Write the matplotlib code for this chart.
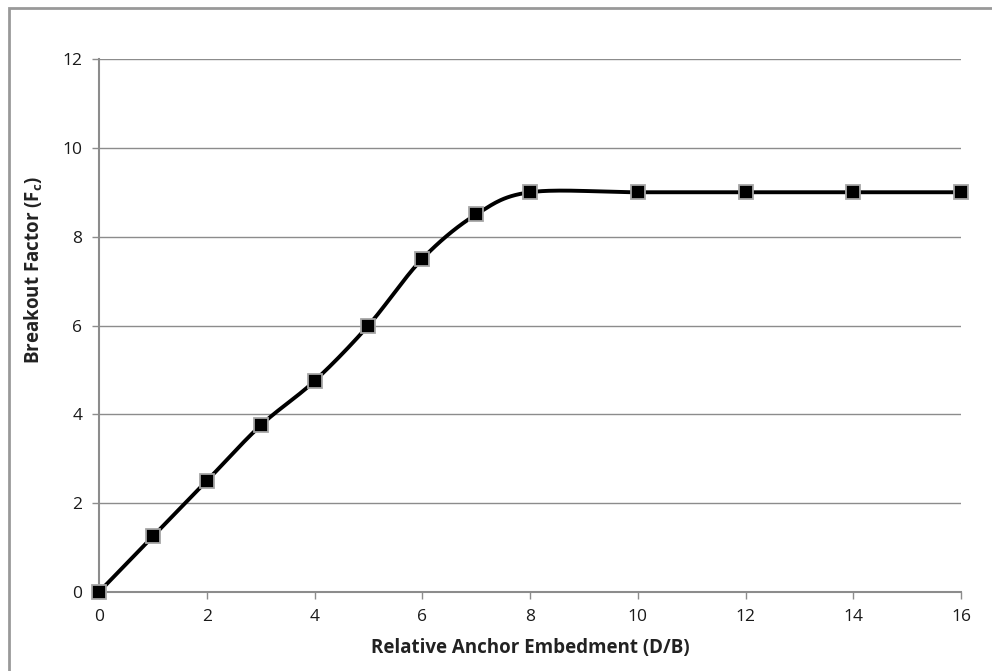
import numpy as np
import matplotlib
matplotlib.use("Agg")
import matplotlib.pyplot as plt
from matplotlib.patches import Rectangle

# values
embedment = [0, 1, 2, 3, 4, 5, 6, 7, 8, 10, 12, 14, 16]
breakout = [0, 1.25, 2.5, 3.75, 4.75, 6, 7.5, 8.5, 9, 9, 9, 9, 9]
xticks = [0, 2, 4, 6, 8, 10, 12, 14, 16]
yticks = [0, 2, 4, 6, 8, 10, 12]


def smooth(xs, ys, n=30):
    # spreadsheet style smoothed line: bezier with catmull-rom control points
    p = np.column_stack([xs, ys]).astype(float)
    out = [p[0]]
    t = np.linspace(0, 1, n)[1:, None]
    for i in range(len(p) - 1):
        a = p[max(i - 1, 0)]
        b = p[i]
        c = p[i + 1]
        d = p[min(i + 2, len(p) - 1)]
        c1 = b + (c - a) / 6
        c2 = c - (d - b) / 6
        seg = ((1 - t) ** 3) * b + 3 * ((1 - t) ** 2) * t * c1 + 3 * (1 - t) * t ** 2 * c2 + t ** 3 * c
        out.extend(seg)
    out = np.array(out)
    return out[:, 0], out[:, 1]


plt.rcParams['font.family'] = ['Open Sans', 'DejaVu Sans']
grey = '#8c8c8c'

fig = plt.figure(figsize=(9.92, 6.71), dpi=100)
ax = fig.add_axes([99 / 992, 1 - 592 / 671, (961 - 99) / 992, (592 - 59) / 671])

# outer chart border (cropped at right and bottom)
fig.patches.append(Rectangle((9 / 992, -0.05), 1.1, 1 - 8 / 671 + 0.05,
                             transform=fig.transFigure, fill=False,
                             edgecolor='#999999', linewidth=2))

sx, sy = smooth(embedment, breakout)
ax.plot(sx, sy, color='black', linewidth=2.8, zorder=3, solid_capstyle='round')
ax.plot(embedment, breakout, linestyle='none', marker='s', markersize=9.5,
        markerfacecolor='black', markeredgecolor='#a6a6a6', markeredgewidth=1.3,
        zorder=4, clip_on=False)

ax.set_xlim(0, 16)
ax.set_ylim(0, 12)
ax.set_xticks(xticks)
ax.set_yticks(yticks)
ax.grid(axis='y', color=grey, linewidth=1)
ax.set_axisbelow(True)
for s in ['top', 'right']:
    ax.spines[s].set_visible(False)
for s in ['left', 'bottom']:
    ax.spines[s].set_color(grey)
    ax.spines[s].set_linewidth(1.5)
ax.tick_params(axis='both', direction='out', length=5, width=1, color=grey,
               labelsize=12.5, labelcolor='#1a1a1a', pad=7)

ax.set_xlabel('Relative Anchor Embedment (D/B)', fontsize=13.5,
              fontweight='bold', color='#222222')
ax.set_ylabel(r'Breakout Factor (F$\mathregular{_c}$)', fontsize=13.5,
              fontweight='bold', color='#222222')
ax.xaxis.set_label_coords(0.5, -(648 - 592) / 533)
ax.yaxis.set_label_coords(-(99 - 34) / 862, (592 - 270) / 533)
ax.xaxis.label.set_va('center')
ax.yaxis.label.set_va('center')

fig.savefig('out.png', dpi=100)
